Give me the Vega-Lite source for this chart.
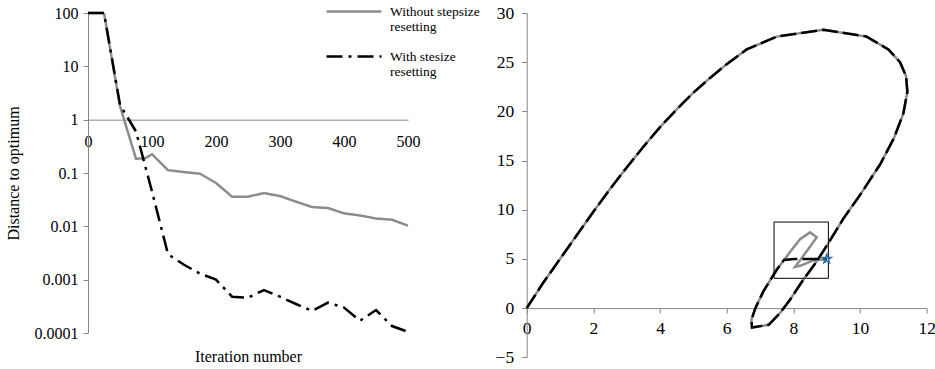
{
  "$schema": "https://vega.github.io/schema/vega-lite/v6.json",
  "background": "white",
  "padding": {"left": 5, "top": 4, "right": 0, "bottom": 0},
  "bounds": "flush",
  "spacing": 118.7,
  "config": {
    "font": "Liberation Serif",
    "view": {"stroke": null},
    "axis": {
      "grid": false,
      "domainColor": "#868686",
      "domainWidth": 1,
      "tickColor": "#868686",
      "tickSize": 5,
      "labelColor": "#000000",
      "labelFont": "Liberation Serif",
      "titleFont": "Liberation Serif",
      "titleFontWeight": "normal",
      "titleColor": "#000000",
      "labelFlush": false,
      "labelOverlap": false
    },
    "legend": {"labelFont": "Liberation Serif"}
  },
  "datasets": {
    "conv": [
      {"series": "Without stepsize resetting", "iter": 0, "dist": 100},
      {"series": "Without stepsize resetting", "iter": 25, "dist": 100},
      {"series": "Without stepsize resetting", "iter": 50, "dist": 1.8},
      {"series": "Without stepsize resetting", "iter": 75, "dist": 0.185},
      {"series": "Without stepsize resetting", "iter": 90, "dist": 0.19},
      {"series": "Without stepsize resetting", "iter": 100, "dist": 0.225},
      {"series": "Without stepsize resetting", "iter": 125, "dist": 0.113},
      {"series": "Without stepsize resetting", "iter": 150, "dist": 0.104},
      {"series": "Without stepsize resetting", "iter": 175, "dist": 0.097},
      {"series": "Without stepsize resetting", "iter": 200, "dist": 0.065},
      {"series": "Without stepsize resetting", "iter": 225, "dist": 0.036},
      {"series": "Without stepsize resetting", "iter": 250, "dist": 0.036},
      {"series": "Without stepsize resetting", "iter": 275, "dist": 0.042},
      {"series": "Without stepsize resetting", "iter": 300, "dist": 0.037},
      {"series": "Without stepsize resetting", "iter": 325, "dist": 0.029},
      {"series": "Without stepsize resetting", "iter": 350, "dist": 0.023},
      {"series": "Without stepsize resetting", "iter": 375, "dist": 0.022},
      {"series": "Without stepsize resetting", "iter": 400, "dist": 0.0175},
      {"series": "Without stepsize resetting", "iter": 425, "dist": 0.016},
      {"series": "Without stepsize resetting", "iter": 450, "dist": 0.014},
      {"series": "Without stepsize resetting", "iter": 475, "dist": 0.0133},
      {"series": "Without stepsize resetting", "iter": 500, "dist": 0.0103},
      {"series": "With stesize resetting", "iter": 0, "dist": 100},
      {"series": "With stesize resetting", "iter": 25, "dist": 100},
      {"series": "With stesize resetting", "iter": 50, "dist": 1.9},
      {"series": "With stesize resetting", "iter": 75, "dist": 0.6},
      {"series": "With stesize resetting", "iter": 100, "dist": 0.045},
      {"series": "With stesize resetting", "iter": 125, "dist": 0.003},
      {"series": "With stesize resetting", "iter": 150, "dist": 0.0019},
      {"series": "With stesize resetting", "iter": 175, "dist": 0.0013},
      {"series": "With stesize resetting", "iter": 200, "dist": 0.001},
      {"series": "With stesize resetting", "iter": 225, "dist": 0.00048},
      {"series": "With stesize resetting", "iter": 250, "dist": 0.00046},
      {"series": "With stesize resetting", "iter": 275, "dist": 0.00064},
      {"series": "With stesize resetting", "iter": 300, "dist": 0.00048},
      {"series": "With stesize resetting", "iter": 325, "dist": 0.00035},
      {"series": "With stesize resetting", "iter": 350, "dist": 0.00026},
      {"series": "With stesize resetting", "iter": 375, "dist": 0.00037},
      {"series": "With stesize resetting", "iter": 400, "dist": 0.0003},
      {"series": "With stesize resetting", "iter": 425, "dist": 0.00017},
      {"series": "With stesize resetting", "iter": 450, "dist": 0.00027},
      {"series": "With stesize resetting", "iter": 475, "dist": 0.000135},
      {"series": "With stesize resetting", "iter": 500, "dist": 0.000105}
    ],
    "traj": [
      {"s": "without", "i": 0, "x": 0, "y": 0},
      {"s": "without", "i": 1, "x": 0.5, "y": 2.6},
      {"s": "without", "i": 2, "x": 1.0, "y": 5.0},
      {"s": "without", "i": 3, "x": 1.5, "y": 7.4},
      {"s": "without", "i": 4, "x": 2.0, "y": 9.8},
      {"s": "without", "i": 5, "x": 2.5, "y": 12.1},
      {"s": "without", "i": 6, "x": 3.0, "y": 14.3},
      {"s": "without", "i": 7, "x": 3.5, "y": 16.4},
      {"s": "without", "i": 8, "x": 4.0, "y": 18.4},
      {"s": "without", "i": 9, "x": 4.5, "y": 20.2},
      {"s": "without", "i": 10, "x": 5.0, "y": 21.9},
      {"s": "without", "i": 11, "x": 5.5, "y": 23.4},
      {"s": "without", "i": 12, "x": 6.0, "y": 24.8},
      {"s": "without", "i": 13, "x": 6.6, "y": 26.3},
      {"s": "without", "i": 14, "x": 7.5, "y": 27.6},
      {"s": "without", "i": 15, "x": 8.9, "y": 28.3},
      {"s": "without", "i": 16, "x": 10.2, "y": 27.6},
      {"s": "without", "i": 17, "x": 10.85, "y": 26.3},
      {"s": "without", "i": 18, "x": 11.2, "y": 25.0},
      {"s": "without", "i": 19, "x": 11.38, "y": 23.6},
      {"s": "without", "i": 20, "x": 11.42, "y": 22.0},
      {"s": "without", "i": 21, "x": 11.3, "y": 19.8},
      {"s": "without", "i": 22, "x": 11.02, "y": 17.3},
      {"s": "without", "i": 23, "x": 10.6, "y": 14.6},
      {"s": "without", "i": 24, "x": 10.0, "y": 11.5},
      {"s": "without", "i": 25, "x": 9.5, "y": 9.1},
      {"s": "without", "i": 26, "x": 9.05, "y": 6.6},
      {"s": "without", "i": 27, "x": 8.7, "y": 4.75},
      {"s": "without", "i": 28, "x": 8.3, "y": 2.9},
      {"s": "without", "i": 29, "x": 7.9, "y": 0.85},
      {"s": "without", "i": 30, "x": 7.6, "y": -0.5},
      {"s": "without", "i": 31, "x": 7.26, "y": -1.7},
      {"s": "without", "i": 32, "x": 6.76, "y": -1.97},
      {"s": "without", "i": 33, "x": 6.74, "y": -1.2},
      {"s": "without", "i": 34, "x": 6.86, "y": 0},
      {"s": "without", "i": 35, "x": 7.1, "y": 1.7},
      {"s": "without", "i": 36, "x": 7.5, "y": 3.9},
      {"s": "without", "i": 37, "x": 7.9, "y": 5.7},
      {"s": "without", "i": 38, "x": 8.2, "y": 7.0},
      {"s": "without", "i": 39, "x": 8.5, "y": 7.7},
      {"s": "without", "i": 40, "x": 8.7, "y": 7.2},
      {"s": "without", "i": 41, "x": 8.45, "y": 6.0},
      {"s": "without", "i": 42, "x": 8.25, "y": 5.1},
      {"s": "without", "i": 43, "x": 8.05, "y": 4.2},
      {"s": "without", "i": 44, "x": 8.2, "y": 4.3},
      {"s": "without", "i": 45, "x": 8.6, "y": 4.85},
      {"s": "without", "i": 46, "x": 9.0, "y": 5.0},
      {"s": "with", "i": 0, "x": 0, "y": 0},
      {"s": "with", "i": 1, "x": 0.5, "y": 2.6},
      {"s": "with", "i": 2, "x": 1.0, "y": 5.0},
      {"s": "with", "i": 3, "x": 1.5, "y": 7.4},
      {"s": "with", "i": 4, "x": 2.0, "y": 9.8},
      {"s": "with", "i": 5, "x": 2.5, "y": 12.1},
      {"s": "with", "i": 6, "x": 3.0, "y": 14.3},
      {"s": "with", "i": 7, "x": 3.5, "y": 16.4},
      {"s": "with", "i": 8, "x": 4.0, "y": 18.4},
      {"s": "with", "i": 9, "x": 4.5, "y": 20.2},
      {"s": "with", "i": 10, "x": 5.0, "y": 21.9},
      {"s": "with", "i": 11, "x": 5.5, "y": 23.4},
      {"s": "with", "i": 12, "x": 6.0, "y": 24.8},
      {"s": "with", "i": 13, "x": 6.6, "y": 26.3},
      {"s": "with", "i": 14, "x": 7.5, "y": 27.6},
      {"s": "with", "i": 15, "x": 8.9, "y": 28.3},
      {"s": "with", "i": 16, "x": 10.2, "y": 27.6},
      {"s": "with", "i": 17, "x": 10.85, "y": 26.3},
      {"s": "with", "i": 18, "x": 11.2, "y": 25.0},
      {"s": "with", "i": 19, "x": 11.38, "y": 23.6},
      {"s": "with", "i": 20, "x": 11.42, "y": 22.0},
      {"s": "with", "i": 21, "x": 11.3, "y": 19.8},
      {"s": "with", "i": 22, "x": 11.02, "y": 17.3},
      {"s": "with", "i": 23, "x": 10.6, "y": 14.6},
      {"s": "with", "i": 24, "x": 10.0, "y": 11.5},
      {"s": "with", "i": 25, "x": 9.5, "y": 9.1},
      {"s": "with", "i": 26, "x": 9.05, "y": 6.6},
      {"s": "with", "i": 27, "x": 8.7, "y": 4.75},
      {"s": "with", "i": 28, "x": 8.3, "y": 2.9},
      {"s": "with", "i": 29, "x": 7.9, "y": 0.85},
      {"s": "with", "i": 30, "x": 7.6, "y": -0.5},
      {"s": "with", "i": 31, "x": 7.26, "y": -1.7},
      {"s": "with", "i": 32, "x": 6.76, "y": -1.97},
      {"s": "with", "i": 33, "x": 6.74, "y": -1.2},
      {"s": "with", "i": 34, "x": 6.86, "y": 0},
      {"s": "with", "i": 35, "x": 7.1, "y": 1.7},
      {"s": "with", "i": 36, "x": 7.5, "y": 3.9},
      {"s": "with", "i": 37, "x": 7.72, "y": 4.9},
      {"s": "with", "i": 38, "x": 8.03, "y": 5.0},
      {"s": "with", "i": 39, "x": 8.5, "y": 5.0},
      {"s": "with", "i": 40, "x": 9.0, "y": 5.0}
    ],
    "box": [{"x1": 7.42, "x2": 9.05, "y1": 3.03, "y2": 8.75}],
    "opt": [{"x": 9.0, "y": 5.0}]
  },
  "hconcat": [
    {
      "width": 320,
      "height": 320,
      "data": {"name": "conv"},
      "mark": {"type": "line", "strokeWidth": 2.5},
      "encoding": {
        "x": {
          "field": "iter",
          "type": "quantitative",
          "scale": {"domain": [0, 500], "nice": false},
          "axis": {
            "values": [0, 100, 200, 300, 400, 500],
            "offset": -213.33,
            "ticks": false,
            "tickSize": 0,
            "labelPadding": 14,
            "labelFont": "Liberation Serif",
            "labelFontSize": 16,
            "labelFlush": false,
            "title": "Iteration number",
            "titleFontSize": 16,
            "titleY": 237,
            "titleBaseline": "middle"
          }
        },
        "y": {
          "field": "dist",
          "type": "quantitative",
          "scale": {"type": "log", "domain": [0.0001, 100]},
          "axis": {
            "values": [0.0001, 0.001, 0.01, 0.1, 1, 10, 100],
            "format": "~g",
            "labelPadding": 5,
            "labelFont": "Liberation Serif",
            "labelFontSize": 16,
            "labelFlush": false,
            "title": "Distance to optimum",
            "titleFontSize": 16,
            "titleX": -75,
            "titleBaseline": "middle"
          }
        },
        "color": {
          "field": "series",
          "type": "nominal",
          "sort": null,
          "scale": {"domain": ["Without stepsize resetting", "With stesize resetting"], "range": ["#8c8c8c", "#000000"]},
          "legend": {
            "orient": "none",
            "legendX": 259,
            "legendY": -8.5,
            "title": null,
            "padding": 0,
            "symbolType": "M-5,0L5,0",
            "symbolSize": 121,
            "symbolStrokeWidth": 2.5,
            "labelFont": "Liberation Serif",
            "labelFontSize": 13.5,
            "labelOffset": 29,
            "labelLimit": 300,
            "rowPadding": 16,
            "labelExpr": "datum.label == 'Without stepsize resetting' ? ['Without stepsize', 'resetting'] : ['With stesize', 'resetting']"
          }
        },
        "strokeDash": {
          "field": "series",
          "type": "nominal",
          "sort": null,
          "scale": {"domain": ["Without stepsize resetting", "With stesize resetting"], "range": [[1, 0], [16, 6, 3, 6]]},
          "legend": {
            "orient": "none",
            "legendX": 259,
            "legendY": -8.5,
            "title": null,
            "padding": 0,
            "symbolType": "M-5,0L5,0",
            "symbolSize": 121,
            "symbolStrokeWidth": 2.5,
            "labelFont": "Liberation Serif",
            "labelFontSize": 13.5,
            "labelOffset": 29,
            "labelLimit": 300,
            "rowPadding": 16,
            "labelExpr": "datum.label == 'Without stepsize resetting' ? ['Without stepsize', 'resetting'] : ['With stesize', 'resetting']"
          }
        }
      }
    },
    {
      "width": 400,
      "height": 344.3,
      "layer": [
        {
          "data": {"name": "traj"},
          "transform": [{"filter": "datum.s == 'without'"}],
          "mark": {"type": "line", "stroke": "#8c8c8c", "strokeWidth": 2.5},
          "encoding": {
            "x": {
              "field": "x",
              "type": "quantitative",
              "scale": {"domain": [0, 12], "nice": false},
              "axis": {
                "values": [0, 2, 4, 6, 8, 10, 12],
                "offset": -49.19,
                "labelPadding": 6,
                "labelFont": "Liberation Serif",
                "labelFontSize": 17.5,
                "labelFlush": false,
                "title": null
              }
            },
            "y": {
              "field": "y",
              "type": "quantitative",
              "scale": {"domain": [-5, 30], "nice": false},
              "axis": {
                "values": [-5, 0, 5, 10, 15, 20, 25, 30],
                "labelPadding": 8,
                "labelFont": "Liberation Serif",
                "labelFontSize": 17.5,
                "labelFlush": false,
                "title": null
              }
            },
            "order": {"field": "i", "type": "quantitative"}
          }
        },
        {
          "data": {"name": "traj"},
          "transform": [{"filter": "datum.s == 'with'"}],
          "mark": {"type": "line", "stroke": "#000000", "strokeWidth": 2.5, "strokeDash": [16, 5]},
          "encoding": {
            "x": {"field": "x", "type": "quantitative"},
            "y": {"field": "y", "type": "quantitative"},
            "order": {"field": "i", "type": "quantitative"}
          }
        },
        {
          "data": {"name": "box"},
          "mark": {"type": "rect", "fill": null, "stroke": "#000000", "strokeWidth": 1},
          "encoding": {
            "x": {"field": "x1", "type": "quantitative"},
            "x2": {"field": "x2"},
            "y": {"field": "y1", "type": "quantitative"},
            "y2": {"field": "y2"}
          }
        },
        {
          "data": {"name": "opt"},
          "mark": {
            "type": "point",
            "shape": "M0,-1L0.24,-0.31L0.95,-0.31L0.38,0.12L0.59,0.81L0,0.4L-0.59,0.81L-0.38,0.12L-0.95,-0.31L-0.24,-0.31Z",
            "size": 90,
            "filled": false,
            "stroke": "#2e6da4",
            "strokeWidth": 1.5,
            "opacity": 1
          },
          "encoding": {
            "x": {"field": "x", "type": "quantitative"},
            "y": {"field": "y", "type": "quantitative"}
          }
        }
      ]
    }
  ]
}
